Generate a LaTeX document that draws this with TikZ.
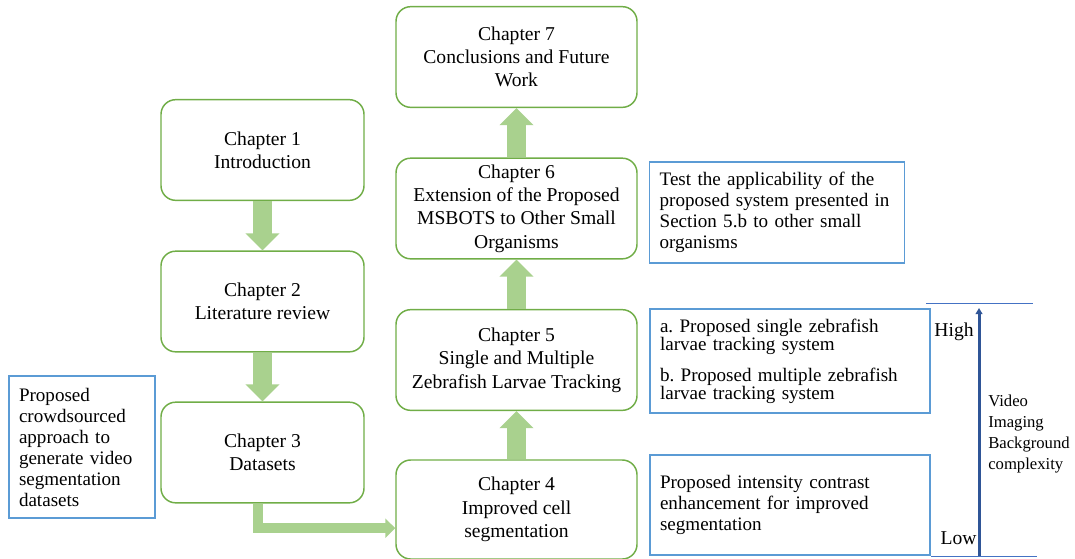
\documentclass[tikz,border=0pt]{standalone}
\usepackage{fontspec}
\setmainfont{Liberation Serif}
\usetikzlibrary{arrows.meta}
\definecolor{boxgreen}{HTML}{70AD47}
\definecolor{arrgreen}{HTML}{A9D18E}
\definecolor{noteblue}{HTML}{5B9BD5}
\definecolor{darkblue}{HTML}{2F5597}
\definecolor{lineblue}{HTML}{4472C4}
\frenchspacing
\begin{document}
\begin{tikzpicture}[x=0.75pt,y=-0.75pt,
  chap/.style={draw=boxgreen, line width=1.1pt, rounded corners=11pt, align=center,
    font=\fontsize{14.7}{17.5}\selectfont, inner sep=0pt},
  lchap/.style={chap, minimum width=152.25pt, minimum height=75.5pt},
  rchap/.style={chap, minimum width=180.75pt, minimum height=75.5pt},
  note/.style={draw=noteblue, line width=0.9pt, align=left, inner xsep=7.5pt, inner ysep=0pt,
    font=\fontsize{14.3}{15.75}\selectfont},
  garrow/.style={arrgreen, line width=14.25pt, -{Triangle[width=24.75pt,length=12.75pt]}},
  earrow/.style={arrgreen, line width=7.5pt, -{Triangle[width=14.25pt,length=7.5pt]}},
  scalearrow/.style={darkblue, line width=2.25pt, -{Triangle[width=5pt,length=4.5pt]}},
  limitline/.style={lineblue, line width=0.75pt},
]
\useasboundingbox (0,0) rectangle (1075,558);
\clip (0,0) rectangle (1075,558);

% chapter boxes
\node[lchap] (ch1) at (262.5,150) {Chapter 1\\Introduction};
\node[lchap] (ch2) at (262.5,301.5) {Chapter 2\\Literature review};
\node[lchap] (ch3) at (262.5,452.5) {Chapter 3\\Datasets};
\node[rchap] (ch7) at (516.5,57) {Chapter 7\\Conclusions and Future\\Work};
\node[rchap] (ch6) at (516.5,208.5) {Chapter 6\\Extension of the Proposed\\MSBOTS to Other Small\\Organisms};
\node[rchap] (ch5) at (516.5,360) {Chapter 5\\Single and Multiple\\Zebrafish Larvae Tracking};
\node[rchap, minimum height=74.25pt] (ch4) at (516.5,509.5) {Chapter 4\\Improved cell\\segmentation};

% notes
\node[note, text width=94.5pt, minimum height=106.5pt] (n3) at (82,447)
  {Proposed\\crowdsourced\\approach to\\generate video\\segmentation\\datasets};
\node[note, text width=176pt, minimum height=75.75pt] (n6) at (777,212.5)
  {Test the applicability of the\\proposed system presented in\\Section 5.b to other small\\organisms};
\node[note, text width=195pt, minimum height=78pt, font=\fontsize{14.3}{13.5}\selectfont] (n5) at (790,361)
  {a. Proposed single zebrafish\\larvae tracking system\\[9.75pt]b. Proposed multiple zebrafish\\larvae tracking system};
\node[note, text width=195pt, minimum height=75pt] (n4) at (790,505)
  {Proposed intensity contrast\\enhancement for improved\\segmentation};

% green arrows
\draw[garrow] (ch1.south) -- (ch2.north);
\draw[garrow] (ch2.south) -- (ch3.north);
\draw[garrow] (ch4.north) -- (ch5.south);
\draw[garrow] (ch5.north) -- (ch6.south);
\draw[garrow] (ch6.north) -- (ch7.south);
\draw[earrow] ([xshift=-3.4pt]ch3.south) |- ([yshift=-14pt]ch4.west);

% complexity scale
\coordinate (topl) at (926,303);
\coordinate (topr) at (1033,303);
\coordinate (botl) at (931,556);
\coordinate (botr) at (1037,556);
\coordinate (lowpt) at (979,556);
\coordinate (highpt) at (979,308);
\draw[limitline] (topl) -- (topr);
\draw[limitline] (botl) -- (botr);
\draw[scalearrow] (lowpt) -- (highpt);
\node[font=\fontsize{14.7}{17.5}\selectfont, inner sep=0pt] (high) at (954,332) {High};
\node[font=\fontsize{14.7}{17.5}\selectfont, inner sep=0pt] (low) at (958.5,538) {Low};
\node[anchor=west, align=left, inner sep=0pt, font=\fontsize{12.5}{15.75}\selectfont] (vlabel) at (988,434)
  {Video\\Imaging\\Background\\complexity};
\end{tikzpicture}
\end{document}
